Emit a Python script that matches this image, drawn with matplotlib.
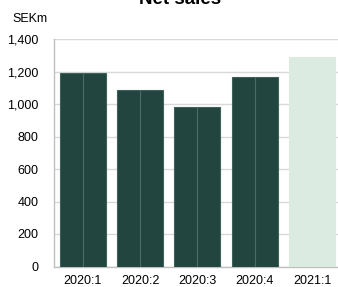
import matplotlib
matplotlib.use("Agg")
import matplotlib.pyplot as plt
import numpy as np

categories = ["2020:1", "2020:2", "2020:3", "2020:4", "2021:1"]
net_sales = [1190, 1085, 982, 1167, 1289]
bar_colors = ["#224540", "#224540", "#224540", "#224540", "#dcebe2"]
edge_colors = ["#3f615b", "#3f615b", "#3f615b", "#3f615b", "#dcebe2"]
yticks = [0, 200, 400, 600, 800, 1000, 1200, 1400]

plt.rcParams['font.family'] = ['Liberation Sans', 'DejaVu Sans']

fig = plt.figure(figsize=(3.38, 2.87), dpi=100)
ax = fig.add_axes([54/338, 1-266.5/287, 1-54/338, (266.5-39)/287])

x = np.arange(len(categories))
ax.bar(x, net_sales, width=0.8, color=bar_colors, edgecolor=edge_colors, linewidth=0.8, zorder=3)
dark = [i for i, c in enumerate(bar_colors) if c == "#224540"]
ax.vlines([x[i] for i in dark], 0, [net_sales[i] for i in dark], color="#4a6b66", linewidth=0.8, zorder=4)

ax.set_xlim(-0.5, 4.45)
ax.set_ylim(0, 1400)
ax.set_yticks(yticks)
ax.set_yticklabels([f"{v:,}" for v in yticks])
ax.set_xticks(x)
ax.set_xticklabels(categories)
ax.tick_params(axis='y', length=0, pad=11, labelsize=9, colors='black')
ax.tick_params(axis='x', length=0, pad=6, labelsize=9, colors='black')
ax.yaxis.grid(True, color="#d9d9d9", linewidth=1.0, zorder=0)
ax.set_axisbelow(True)
for s in ["top", "right"]:
    ax.spines[s].set_visible(False)
ax.spines["left"].set_color("#bfbfbf")
ax.spines["bottom"].set_color("#bfbfbf")
ax.spines["left"].set_linewidth(1.0)
ax.spines["bottom"].set_linewidth(1.0)

fig.text(12/338, 1-22/287, "SEKm", fontsize=9, ha='left', va='baseline')
fig.text(180/338, 1-4/287, "Net sales", fontsize=13.5, fontweight='bold', ha='center', va='baseline')

fig.savefig("out.png", dpi=100)
